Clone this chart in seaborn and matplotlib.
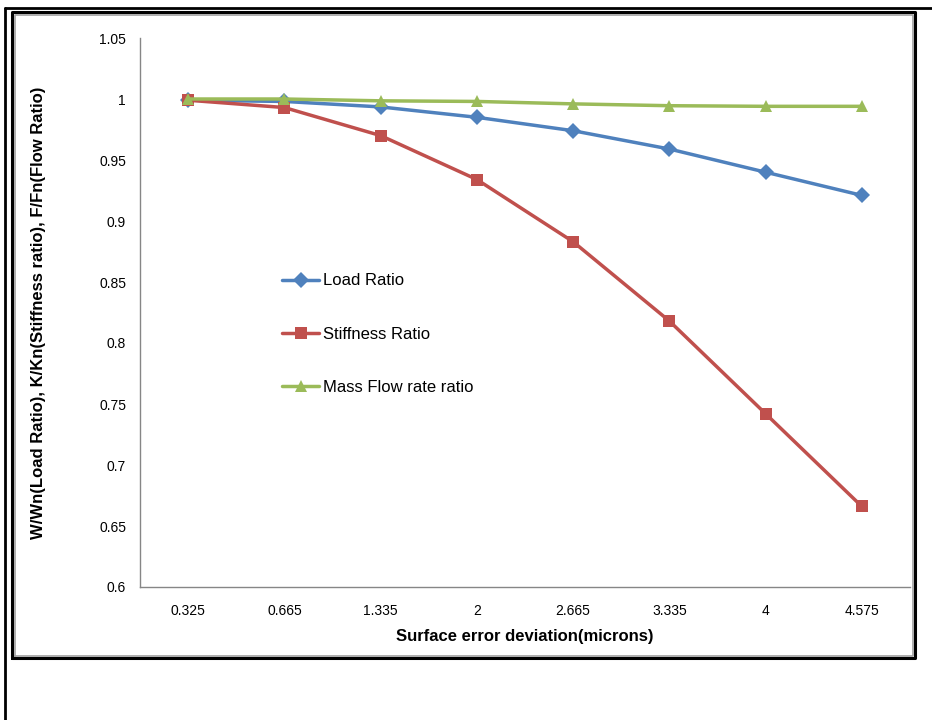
import seaborn as sns
import matplotlib.pyplot as plt
import pandas as pd
from matplotlib.lines import Line2D

# surface error deviation (microns), shown as categories
deviation = ["0.325", "0.665", "1.335", "2", "2.665", "3.335", "4", "4.575"]
load_ratio = [0.999, 0.998, 0.9935, 0.985, 0.974, 0.959, 0.940, 0.921]
stiffness_ratio = [0.999, 0.993, 0.970, 0.934, 0.883, 0.818, 0.742, 0.666]
flow_ratio = [1.000, 1.000, 0.9985, 0.998, 0.996, 0.9945, 0.994, 0.994]

series = ["Load Ratio", "Stiffness Ratio", "Mass Flow rate ratio"]
colors = ["#4F81BD", "#C0504D", "#9BBB59"]
markers = ["D", "s", "^"]

rows = []
for name, vals in zip(series, [load_ratio, stiffness_ratio, flow_ratio]):
    for i, v in enumerate(vals):
        rows.append({"pos": i, "value": v, "series": name})
df = pd.DataFrame(rows)

sns.set_style("white")
plt.rcParams['font.family'] = ['Liberation Sans', 'DejaVu Sans']
plt.rcParams['text.color'] = 'black'
plt.rcParams['axes.labelcolor'] = 'black'
plt.rcParams['xtick.labelcolor'] = 'black'
plt.rcParams['ytick.labelcolor'] = 'black'

fig = plt.figure(figsize=(9.32, 7.2), dpi=100)
ax = fig.add_axes([140/932, 1-587/720, (910-140)/932, (587-38)/720])

sns.lineplot(data=df, x="pos", y="value", hue="series", style="series",
             hue_order=series, style_order=series, palette=colors,
             markers=markers, dashes=False, markersize=8, linewidth=2.5,
             markeredgewidth=0, ax=ax)

ax.set_xlim(-0.5, 7.5)
ax.set_ylim(0.6, 1.05)
ax.set_yticks([0.6, 0.65, 0.7, 0.75, 0.8, 0.85, 0.9, 0.95, 1.0, 1.05])
ax.set_yticklabels(["0.6", "0.65", "0.7", "0.75", "0.8", "0.85", "0.9", "0.95", "1", "1.05"], fontsize=10)
ax.set_xticks([i - 0.5 for i in range(9)])
ax.set_xticklabels([])
ax.set_xticks(range(8), minor=True)
ax.set_xticklabels(deviation, minor=True, fontsize=10)
ax.tick_params(axis="x", which="minor", length=0, pad=12)
ax.tick_params(axis="x", which="major", length=4, color="#868686", direction="out")
ax.tick_params(axis="y", length=4, color="#868686", direction="out", pad=6)

for s in ["top", "right"]:
    ax.spines[s].set_visible(False)
for s in ["left", "bottom"]:
    ax.spines[s].set_color("#868686")
    ax.spines[s].set_linewidth(1)

ax.set_xlabel("Surface error deviation(microns)", fontsize=12, fontweight="bold", labelpad=8)
ax.set_ylabel("W/Wn(Load Ratio), K/Kn(Stiffness ratio), F/Fn(Flow Ratio)",
              fontsize=12, fontweight="bold", labelpad=38)

handles, labels = ax.get_legend_handles_labels()
ax.legend(handles, labels, loc="upper left", bbox_to_anchor=(274/932, 1-265/720),
          bbox_transform=fig.transFigure, frameon=False, fontsize=12,
          handlelength=2.2, handletextpad=0.25, labelspacing=2.3, borderpad=0)

# page frame lines
fig.add_artist(Line2D([5/932, 1], [1-8/720, 1-8/720], color="black", lw=2, transform=fig.transFigure))
fig.add_artist(Line2D([5/932, 5/932], [0, 1-8/720], color="black", lw=2, transform=fig.transFigure))
# chart border (double)
x0, x1, y0, y1 = 12/932, 915/932, 1-658/720, 1-12/720
fig.add_artist(Line2D([x0, x1, x1, x0, x0], [y0, y0, y1, y1, y0], color="black", lw=2.2, transform=fig.transFigure))
d0, d1, e0, e1 = 14.5/932, 912.5/932, 1-655.5/720, 1-14.5/720
fig.add_artist(Line2D([d0, d1, d1, d0, d0], [e0, e0, e1, e1, e0], color="#A0A0A0", lw=1.2, transform=fig.transFigure))

plt.savefig("out.png", dpi=100)
